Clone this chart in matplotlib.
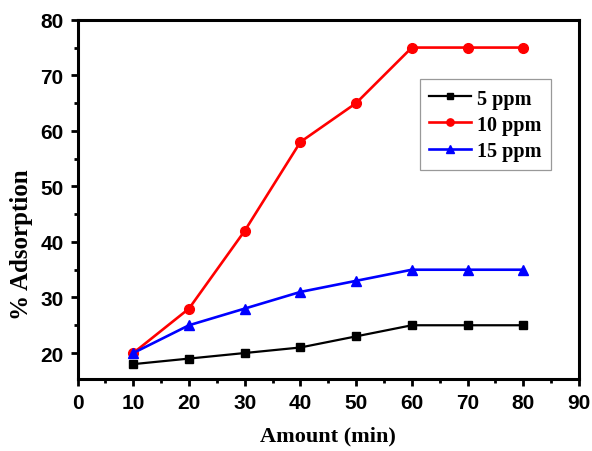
import matplotlib.pyplot as plt
from matplotlib.ticker import MultipleLocator

time_min = [10, 20, 30, 40, 50, 60, 70, 80]
ppm5 = [18, 19, 20, 21, 23, 25, 25, 25]
ppm10 = [20, 28, 42, 58, 65, 75, 75, 75]
ppm15 = [20, 25, 28, 31, 33, 35, 35, 35]

plt.rcParams['font.weight'] = 'bold'

fig = plt.figure(figsize=(5.92, 4.52), dpi=100)
ax = fig.add_axes([0.131, 0.159, 0.847, 0.795])

ax.plot(time_min, ppm5, color='black', marker='s', markersize=6, lw=1.6, label='5 ppm')
ax.plot(time_min, ppm10, color='red', marker='o', markersize=7, lw=1.9, label='10 ppm')
ax.plot(time_min, ppm15, color='blue', marker='^', markersize=7.5, lw=1.9, label='15 ppm')

ax.set_xlim(0, 90)
ax.set_ylim(15.3, 80)
ax.xaxis.set_major_locator(MultipleLocator(10))
ax.xaxis.set_minor_locator(MultipleLocator(5))
ax.yaxis.set_major_locator(MultipleLocator(10))
ax.yaxis.set_minor_locator(MultipleLocator(5))
ax.tick_params(which='major', direction='out', length=5, width=2, pad=5,
               labelsize=15, labelfontfamily='Liberation Sans')
ax.tick_params(which='minor', direction='out', length=3, width=2)
for s in ax.spines.values():
    s.set_linewidth(2.2)

ax.set_xlabel('Amount (min)', fontfamily='Liberation Serif', fontweight='bold', fontsize=16, labelpad=10)
ax.set_ylabel('% Adsorption', fontfamily='Liberation Serif', fontweight='bold', fontsize=18)
ax.yaxis.set_label_coords(-0.088, 0.376)

leg = ax.legend(loc='upper left', bbox_to_anchor=(0.683, 0.834), fancybox=False,
                prop={'family': 'Liberation Serif', 'weight': 'bold', 'size': 14.5},
                handlelength=2.1, handletextpad=0.3, borderpad=0.45, labelspacing=0.3,
                markerscale=0.75, borderaxespad=0)
leg.get_frame().set_edgecolor('gray')
leg.get_frame().set_linewidth(0.9)

fig.savefig('out.png', dpi=100)
